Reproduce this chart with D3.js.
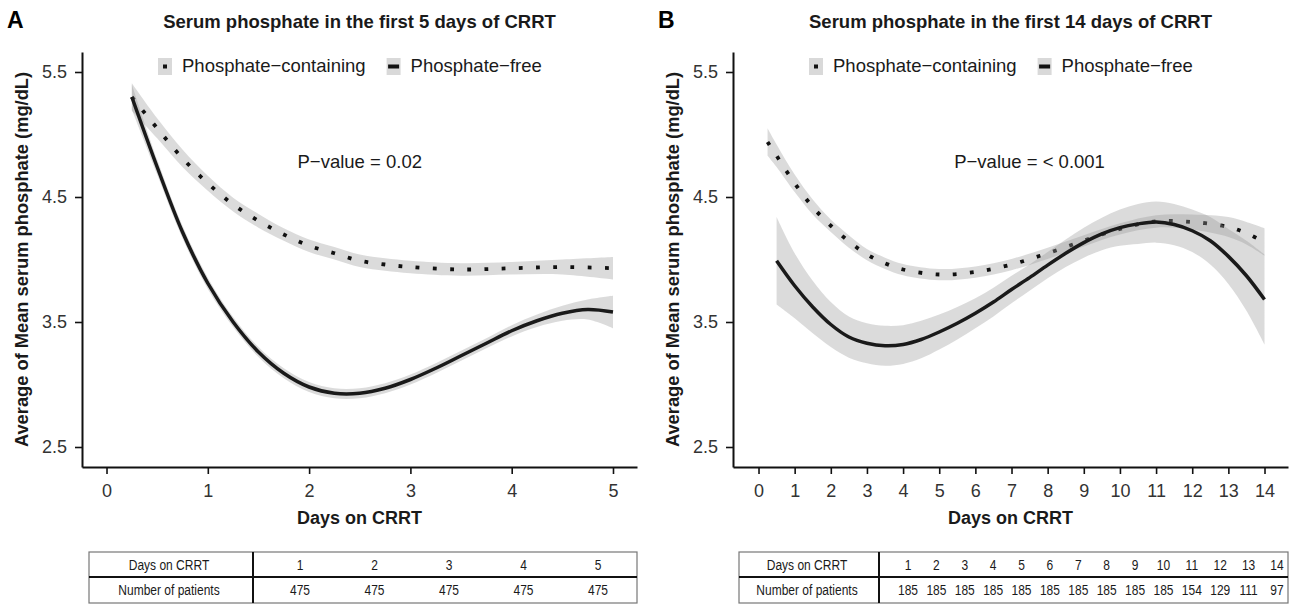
<!DOCTYPE html>
<html>
<head>
<meta charset="utf-8">
<script src="https://cdn.jsdelivr.net/npm/d3@7"></script>
<style>
  body { margin: 0; background: #fff; }
  text { font-family: "Liberation Sans", Arial, Helvetica, sans-serif; }
</style>
</head>
<body>
<div id="chart"></div>
<script>
// ---- data ----
// panel A: first 5 days
const A_CONT_DAYS = [0.25, 0.5, 0.75, 1, 1.25, 1.5, 1.75, 2, 2.25, 2.5, 2.75, 3, 3.5, 4, 4.5, 5];
const A_CONT_MEAN = [5.30, 5.05, 4.81, 4.61, 4.44, 4.31, 4.20, 4.11, 4.05, 3.99, 3.96, 3.94, 3.92, 3.93, 3.94, 3.93];
const A_CONT_HI = [5.41, 5.13, 4.88, 4.67, 4.495, 4.365, 4.25, 4.16, 4.10, 4.04, 4.01, 3.99, 3.97, 3.98, 4.00, 4.02];
const A_CONT_LO = [5.19, 4.97, 4.74, 4.55, 4.385, 4.255, 4.15, 4.06, 4.00, 3.94, 3.91, 3.89, 3.87, 3.88, 3.88, 3.84];

const A_FREE_DAYS = [0.25, 0.5, 0.75, 1, 1.25, 1.5, 1.75, 2, 2.25, 2.5, 2.75, 3, 3.25, 3.5, 3.75, 4, 4.25, 4.5, 4.75, 5];
const A_FREE_MEAN = [5.30, 4.74, 4.22, 3.81, 3.50, 3.26, 3.09, 2.98, 2.93, 2.93, 2.97, 3.04, 3.13, 3.23, 3.33, 3.43, 3.51, 3.57, 3.60, 3.58];
const A_FREE_HI = [5.40, 4.80, 4.27, 3.855, 3.54, 3.30, 3.13, 3.02, 2.97, 2.97, 3.01, 3.08, 3.17, 3.27, 3.37, 3.475, 3.56, 3.63, 3.68, 3.71];
const A_FREE_LO = [5.20, 4.68, 4.17, 3.765, 3.46, 3.22, 3.05, 2.94, 2.89, 2.89, 2.93, 3.00, 3.09, 3.19, 3.29, 3.385, 3.46, 3.51, 3.52, 3.45];

// panel B: first 14 days
const B_CONT_DAYS = [0.25, 0.5, 1, 1.5, 2, 2.5, 3, 3.5, 4, 5, 6, 7, 8, 9, 10, 11, 12, 13, 13.5, 14];
const B_CONT_MEAN = [4.94, 4.83, 4.61, 4.42, 4.27, 4.145, 4.04, 3.97, 3.92, 3.88, 3.90, 3.96, 4.05, 4.15, 4.245, 4.305, 4.30, 4.26, 4.21, 4.14];
const B_CONT_HI = [5.05, 4.92, 4.68, 4.48, 4.32, 4.195, 4.085, 4.015, 3.965, 3.925, 3.945, 4.005, 4.095, 4.195, 4.29, 4.355, 4.36, 4.34, 4.30, 4.25];
const B_CONT_LO = [4.83, 4.74, 4.54, 4.36, 4.22, 4.095, 3.995, 3.925, 3.875, 3.835, 3.855, 3.915, 4.005, 4.105, 4.20, 4.255, 4.24, 4.18, 4.12, 4.03];

const B_FREE_DAYS = [0.5, 1, 1.5, 2, 2.5, 3, 3.5, 4, 4.5, 5, 5.5, 6, 6.5, 7, 7.5, 8, 8.5, 9, 9.5, 10, 10.5, 11, 11.5, 12, 12.5, 13, 13.5, 14];
const B_FREE_MEAN = [3.99, 3.79, 3.62, 3.48, 3.38, 3.33, 3.31, 3.32, 3.36, 3.42, 3.49, 3.57, 3.66, 3.76, 3.855, 3.955, 4.05, 4.135, 4.205, 4.255, 4.285, 4.30, 4.28, 4.23, 4.15, 4.025, 3.87, 3.68];
const B_FREE_HI = [4.34, 4.05, 3.83, 3.66, 3.545, 3.49, 3.47, 3.475, 3.51, 3.56, 3.62, 3.69, 3.775, 3.87, 3.96, 4.06, 4.16, 4.255, 4.335, 4.40, 4.445, 4.465, 4.445, 4.40, 4.34, 4.245, 4.15, 4.04];
const B_FREE_LO = [3.64, 3.53, 3.41, 3.30, 3.215, 3.17, 3.15, 3.165, 3.21, 3.28, 3.36, 3.45, 3.545, 3.65, 3.75, 3.85, 3.94, 4.015, 4.075, 4.11, 4.125, 4.135, 4.115, 4.06, 3.96, 3.805, 3.59, 3.32];

const Y_TICKS = [2.5, 3.5, 4.5, 5.5];
const A_X_TICKS = [0, 1, 2, 3, 4, 5];
const B_X_TICKS = [0, 1, 2, 3, 4, 5, 6, 7, 8, 9, 10, 11, 12, 13, 14];

const A_TABLE_DAYS = [1, 2, 3, 4, 5];
const A_TABLE_N = [475, 475, 475, 475, 475];
const B_TABLE_DAYS = [1, 2, 3, 4, 5, 6, 7, 8, 9, 10, 11, 12, 13, 14];
const B_TABLE_N = [185, 185, 185, 185, 185, 185, 185, 185, 185, 185, 154, 129, 111, 97];

const LEGEND_LABELS = ["Phosphate\u2212containing", "Phosphate\u2212free"];

function rows(days, mean, lo, hi) {
  return days.map((d, i) => ({ day: d, mean: mean[i], lo: lo[i], hi: hi[i] }));
}

const panels = [
  {
    letter: "A",
    title: "Serum phosphate in the first 5 days of CRRT",
    pvalue: "P\u2212value = 0.02",
    pX: 2.5,
    left: 82, right: 637,
    xDomain: [-0.242, 5.237],
    xTicks: A_X_TICKS,
    cont: rows(A_CONT_DAYS, A_CONT_MEAN, A_CONT_LO, A_CONT_HI),
    free: rows(A_FREE_DAYS, A_FREE_MEAN, A_FREE_LO, A_FREE_HI),
    table: { x0: 89, x1: 637, div: 253, colRange: [300, 598], days: A_TABLE_DAYS, n: A_TABLE_N }
  },
  {
    letter: "B",
    title: "Serum phosphate in the first 14 days of CRRT",
    pvalue: "P\u2212value = < 0.001",
    pX: 7.5,
    left: 733, right: 1288,
    xDomain: [-0.706, 14.65],
    xTicks: B_X_TICKS,
    cont: rows(B_CONT_DAYS, B_CONT_MEAN, B_CONT_LO, B_CONT_HI),
    free: rows(B_FREE_DAYS, B_FREE_MEAN, B_FREE_LO, B_FREE_HI),
    table: { x0: 739, x1: 1288, div: 879, colRange: [908, 1277], days: B_TABLE_DAYS, n: B_TABLE_N }
  }
];

const svg = d3.select("#chart")
  .append("svg")
  .attr("width", 1290)
  .attr("height", 605)
  .style("background", "#fff");

const TOP = 52, BOTTOM = 467;

function drawPanel(p) {
  const g = svg.append("g");
  const x = d3.scaleLinear().domain(p.xDomain).range([p.left, p.right]);
  const y = d3.scaleLinear().domain([2.34, 5.66]).range([BOTTOM, TOP]);
  const mid = (p.left + p.right) / 2;

  // letter + title
  g.append("text")
    .attr("x", p.left - 75)
    .attr("y", 28)
    .style("font-size", "23px")
    .style("font-weight", "bold")
    .text(p.letter);

  g.append("text")
    .attr("x", mid)
    .attr("y", 28)
    .attr("text-anchor", "middle")
    .style("font-size", "18.5px")
    .style("font-weight", "bold")
    .style("fill", "#1a1a1a")
    .text(p.title);

  // bands and lines
  const curve = d3.curveCatmullRom.alpha(0.5);
  const area = d3.area()
    .curve(curve)
    .x(d => x(d.day))
    .y0(d => y(d.lo))
    .y1(d => y(d.hi));
  const line = d3.line()
    .curve(curve)
    .x(d => x(d.day))
    .y(d => y(d.mean));

  g.append("path")
    .datum(p.cont)
    .attr("d", area)
    .style("fill", "#999")
    .style("fill-opacity", 0.35);
  g.append("path")
    .datum(p.cont)
    .attr("d", line)
    .style("fill", "none")
    .style("stroke", "#111")
    .style("stroke-width", 3.8)
    .style("stroke-dasharray", "3.8,13.4");

  g.append("path")
    .datum(p.free)
    .attr("d", area)
    .style("fill", "#999")
    .style("fill-opacity", 0.35);
  g.append("path")
    .datum(p.free)
    .attr("d", line)
    .style("fill", "none")
    .style("stroke", "#1a1a1a")
    .style("stroke-width", 3.5);

  // p-value
  g.append("text")
    .attr("x", x(p.pX))
    .attr("y", y(4.78))
    .attr("dy", "0.35em")
    .attr("text-anchor", "middle")
    .style("font-size", "18.5px")
    .style("fill", "#1a1a1a")
    .text(p.pvalue);

  // axes
  const yAxis = d3.axisLeft(y)
    .tickValues(Y_TICKS)
    .tickFormat(d3.format(".1f"))
    .tickSize(7)
    .tickSizeOuter(0)
    .tickPadding(8);
  const xAxis = d3.axisBottom(x)
    .tickValues(p.xTicks)
    .tickFormat(d3.format("d"))
    .tickSize(7)
    .tickSizeOuter(0)
    .tickPadding(10);

  const ya = g.append("g")
    .attr("transform", `translate(${p.left},0)`)
    .call(yAxis);
  const xa = g.append("g")
    .attr("transform", `translate(0,${BOTTOM})`)
    .call(xAxis);

  [ya, xa].forEach(a => {
    a.select(".domain").style("stroke", "#111").style("stroke-width", 2);
    a.selectAll(".tick line").style("stroke", "#111").style("stroke-width", 1.6);
    a.selectAll(".tick text")
      .style("font-size", "18px")
      .style("fill", "#333")
      .style("font-family", '"Liberation Sans", Arial, sans-serif');
  });

  // axis titles
  g.append("text")
    .attr("transform", `translate(${p.left - 54},${(TOP + BOTTOM) / 2}) rotate(-90)`)
    .attr("text-anchor", "middle")
    .style("font-size", "18.3px")
    .style("font-weight", "bold")
    .style("fill", "#1a1a1a")
    .text("Average of Mean serum phosphate (mg/dL)");

  g.append("text")
    .attr("x", mid)
    .attr("y", 524)
    .attr("text-anchor", "middle")
    .style("font-size", "18px")
    .style("font-weight", "bold")
    .style("fill", "#1a1a1a")
    .text("Days on CRRT");

  // legend
  const leg = g.append("g").attr("transform", `translate(${p.left + 76},58)`);
  const k1 = leg.append("g");
  k1.append("rect").attr("width", 14).attr("height", 17).style("fill", "#d9d9d9");
  k1.append("rect").attr("x", 5).attr("y", 6.5).attr("width", 4).attr("height", 4).style("fill", "#111");
  const t1 = k1.append("text")
    .attr("x", 24).attr("y", 13.5)
    .style("font-size", "18.5px")
    .style("fill", "#1a1a1a")
    .text(LEGEND_LABELS[0]);
  const k2x = 24 + t1.node().getComputedTextLength() + 21;
  const k2 = leg.append("g").attr("transform", `translate(${k2x},0)`);
  k2.append("rect").attr("width", 14).attr("height", 17).style("fill", "#d9d9d9");
  k2.append("rect").attr("x", 1.5).attr("y", 6.5).attr("width", 11).attr("height", 4).style("fill", "#111");
  k2.append("text")
    .attr("x", 24).attr("y", 13.5)
    .style("font-size", "18.5px")
    .style("fill", "#1a1a1a")
    .text(LEGEND_LABELS[1]);

  // patient table
  const t = p.table;
  const ty0 = 552, tyMid = 577, ty1 = 603;
  const col = d3.scalePoint().domain(t.days).range(t.colRange);
  const tg = g.append("g");
  tg.append("rect")
    .attr("x", t.x0).attr("y", ty0)
    .attr("width", t.x1 - t.x0).attr("height", ty1 - ty0)
    .style("fill", "none").style("stroke", "#777").style("stroke-width", 1.2);
  tg.append("line")
    .attr("x1", t.x0).attr("x2", t.x1).attr("y1", tyMid).attr("y2", tyMid)
    .style("stroke", "#111").style("stroke-width", 2);
  tg.append("line")
    .attr("x1", t.div).attr("x2", t.div).attr("y1", ty0).attr("y2", ty1)
    .style("stroke", "#111").style("stroke-width", 2);

  function cell(cx, cy, label) {
    tg.append("text")
      .attr("transform", `translate(${cx},${cy}) scale(0.8,1)`)
      .attr("text-anchor", "middle")
      .attr("dy", "0.36em")
      .style("font-size", "15px")
      .style("fill", "#1a1a1a")
      .text(label);
  }
  const labelX = (t.x0 + t.div) / 2 - 2;
  cell(labelX, (ty0 + tyMid) / 2, "Days on CRRT");
  cell(labelX, (tyMid + ty1) / 2, "Number of patients");
  t.days.forEach((d, i) => {
    cell(col(d), (ty0 + tyMid) / 2, d);
    cell(col(d), (tyMid + ty1) / 2, t.n[i]);
  });
}

panels.forEach(drawPanel);
</script>
</body>
</html>
